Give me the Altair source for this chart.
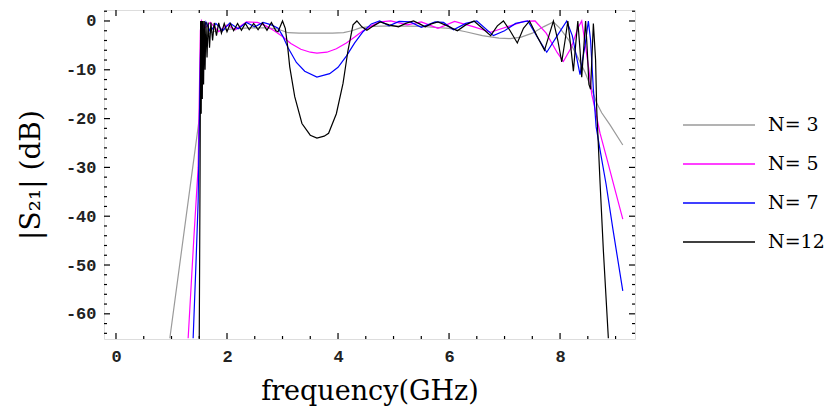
import altair as alt
import pandas as pd

# ---------------- data ----------------
series_names = ["N= 3", "N= 5", "N= 7", "N=12"]
series_colors = ["#9a9a9a", "#ff00ff", "#0000ff", "#000000"]

# N = 3 (gray)
f_n3 = [0.97, 1.50, 1.53, 1.57, 1.62, 1.70, 1.85, 2.10, 2.40, 2.70, 2.90, 3.00, 3.10, 3.30,
        3.60, 3.90, 4.10, 4.25, 4.40, 4.60, 5.00, 5.50, 6.00, 6.30, 6.60, 6.90, 7.10, 7.30,
        7.50, 7.70, 7.88, 8.00, 8.15, 8.30, 8.45, 8.57, 8.66, 8.75, 8.90, 9.13]
s_n3 = [-65.0, -20.0, -10.0, -5.0, -3.2, -2.4, -1.9, -1.6, -1.4, -1.4, -1.6, -2.0, -2.4, -2.5,
        -2.5, -2.5, -2.4, -2.0, -1.4, -1.1, -1.0, -1.1, -1.5, -2.2, -3.0, -3.5, -3.6, -3.3,
        -2.5, -1.2, -0.2, -1.5, -3.8, -7.0, -10.5, -14.0, -16.8, -18.8, -21.3, -25.4]

# N = 5 (magenta)
f_n5 = [1.30, 1.40, 1.48, 1.50, 1.52, 1.54, 1.60, 1.70, 1.85, 2.00, 2.15, 2.35, 2.55, 2.70,
        2.85, 3.00, 3.15, 3.33, 3.50, 3.62, 3.80, 3.97, 4.15, 4.30, 4.45, 4.60, 4.76, 4.95,
        5.25, 5.50, 5.80, 6.10, 6.45, 6.75, 7.10, 7.35, 7.55, 7.75, 7.95, 8.06, 8.20, 8.32,
        8.39, 8.45, 8.52, 8.57, 8.63, 8.72, 8.85, 9.00, 9.13]
s_n5 = [-65.0, -45.0, -30.0, -16.0, -2.0, 0.0, -1.5, -0.3, -2.2, -0.8, -1.8, -0.2, -0.3, -1.0,
        -2.0, -3.2, -4.6, -5.8, -6.4, -6.6, -6.4, -5.7, -4.5, -3.3, -2.0, -1.0, -0.2, 0.0,
        -0.8, -0.2, -1.5, -0.1, -1.2, -2.3, -1.0, -0.1, 0.0, -2.5, -6.5, -8.3, -5.5, -1.5,
        0.0, -4.5, -10.0, -15.0, -18.0, -23.0, -28.5, -35.0, -40.6]

# N = 7 (blue)
f_n7 = [1.39, 1.44, 1.48, 1.51, 1.52, 1.535, 1.57, 1.62, 1.70, 1.80, 1.92, 2.05, 2.20, 2.35,
        2.50, 2.65, 2.80, 2.92, 3.00, 3.10, 3.25, 3.40, 3.62, 3.85, 4.00, 4.15, 4.30, 4.45,
        4.60, 4.75, 4.92, 5.10, 5.30, 5.50, 5.75, 5.90, 6.08, 6.30, 6.50, 6.80, 7.00, 7.20,
        7.42, 7.60, 7.76, 7.95, 8.12, 8.22, 8.36, 8.45, 8.51, 8.55, 8.60, 8.65, 8.72, 8.83,
        8.95, 9.13]
s_n7 = [-65.0, -50.0, -37.0, -15.0, -8.0, 0.0, -2.5, -0.2, -2.2, -0.5, -2.0, -0.4, -1.6, -0.3,
        -1.2, -0.3, -0.8, -1.5, -3.0, -5.5, -8.5, -10.3, -11.5, -10.8, -9.5, -7.2, -4.5, -2.2,
        -0.6, 0.0, -1.0, -0.1, -0.2, -1.3, -0.2, -0.3, -1.8, -0.5, 0.0, -3.0, -2.0, -0.5,
        0.0, -3.5, -6.4, -3.0, 0.0, -3.0, -11.0, -5.0, 0.0, -4.0, -14.0, -21.7, -26.4, -33.5,
        -42.5, -55.3]

# N = 12 (black)
f_n12 = [1.50, 1.515, 1.525, 1.535, 1.545, 1.555, 1.565, 1.578, 1.59, 1.605, 1.62, 1.64,
         1.66, 1.685, 1.71, 1.74, 1.77, 1.81, 1.85, 1.90, 1.95, 2.00, 2.06, 2.12, 2.19,
         2.26, 2.33, 2.40, 2.48, 2.56, 2.64, 2.72, 2.80, 2.88, 2.92, 3.00, 3.05, 3.09,
         3.13, 3.22, 3.35, 3.50, 3.62, 3.75, 3.83, 3.97, 4.09, 4.18, 4.27, 4.34, 4.43,
         4.52, 4.64, 4.76, 4.92, 5.09, 5.22, 5.36, 5.47, 5.57, 5.68, 5.80, 5.97, 6.15,
         6.30, 6.45, 6.60, 6.75, 6.87, 6.98, 7.10, 7.23, 7.34, 7.45, 7.58, 7.72, 7.80,
         7.88, 7.96, 8.03, 8.09, 8.14, 8.19, 8.24, 8.28, 8.32, 8.36, 8.39, 8.43, 8.46,
         8.49, 8.52, 8.55, 8.60, 8.64, 8.66, 8.72, 8.78, 8.87]
s_n12 = [-65.0, -30.0, 0.0, -19.0, 0.0, -16.0, 0.0, -13.0, 0.0, -10.0, -0.2, -7.5,
         -0.3, -5.5, -0.3, -4.0, -0.4, -3.0, -0.4, -2.5, -0.5, -2.2, -0.5, -2.0, -0.5,
         -1.9, -0.5, -1.8, -0.5, -1.8, -0.4, -1.9, -0.3, -2.0, -2.2, 0.0, -1.5, -5.0,
         -9.4, -15.5, -21.0, -23.4, -24.0, -23.6, -23.0, -19.0, -12.8, -6.0, -0.8, 0.0, -1.2,
         -1.9, -1.0, -0.2, -0.8, -1.2, -0.5, 0.0, -0.6, -1.2, -0.6, -0.2, -1.0, -2.0,
         -0.8, 0.0, -1.5, -3.0, -1.0, 0.0, -2.0, -4.5, -1.5, 0.0, -3.0, -6.0, -3.0,
         0.0, -4.0, -8.4, -4.0, 0.0, -5.0, -10.3, -5.0, 0.0, -6.0, -11.5, -5.0, 0.0,
         -6.0, -13.0, -14.0, -0.5, -8.0, -18.0, -33.0, -47.0, -65.0]

# frame ticks
x_major = [0, 2, 4, 6, 8]
x_minor = [0.5, 1, 1.5, 2.5, 3, 3.5, 4.5, 5, 5.5, 6.5, 7, 7.5, 8.5, 9]
y_major = [0, -10, -20, -30, -40, -50, -60]
y_minor = [2, -2, -4, -6, -8, -12, -14, -16, -18, -22, -24, -26, -28, -32, -34, -36, -38,
           -42, -44, -46, -48, -52, -54, -56, -58, -62, -64]

# ---------------- chart ----------------
W, H = 531, 329
x_dom = [-0.216, 9.35]
y_dom = [-65.16, 2.25]
xs = alt.Scale(domain=x_dom, nice=False, zero=False)
ys = alt.Scale(domain=y_dom, nice=False, zero=False)

x_axis = alt.Axis(values=x_major, ticks=False, domain=False, grid=False,
                  labelFont="Liberation Mono", labelFontWeight="bold", labelFontSize=17,
                  labelColor="#222", labelPadding=9,
                  title="frequency(GHz)", titleFont="DejaVu Serif", titleFontSize=27,
                  titleFontWeight="normal", titleColor="#000", titlePadding=14)
y_axis = alt.Axis(values=y_major, ticks=False, domain=False, grid=False,
                  labelFont="Liberation Mono", labelFontWeight="bold", labelFontSize=17,
                  labelColor="#222", labelPadding=8,
                  labelExpr="datum.value < 0 ? '-' + (-datum.value) : datum.label",
                  title="|S₂₁| (dB)", titleFont="DejaVu Serif", titleFontSize=28,
                  titleFontWeight="normal", titleColor="#000", titlePadding=20)

series = [(series_names[0], f_n3, s_n3), (series_names[1], f_n5, s_n5),
          (series_names[2], f_n7, s_n7), (series_names[3], f_n12, s_n12)]

color_scale = alt.Scale(domain=series_names, range=series_colors)

layers = []
for name, f, s in series:
    df = pd.DataFrame({"f": f, "s": s, "series": name, "i": range(len(f))})
    layers.append(
        alt.Chart(df).mark_line(strokeWidth=1.2, clip=True).encode(
            x=alt.X("f:Q", scale=xs, axis=x_axis),
            y=alt.Y("s:Q", scale=ys, axis=y_axis),
            order="i:Q",
            color=alt.Color("series:N", scale=color_scale, legend=None),
        )
    )

# inward frame ticks
def xticks(vals, length):
    d = pd.DataFrame({"v": vals})
    base = alt.Chart(d).mark_rule(color="#000", strokeWidth=1.2)
    xe = alt.X("v:Q", scale=xs, axis=x_axis)
    return [base.encode(x=xe, y=alt.value(H), y2=alt.value(H - length)),
            base.encode(x=xe, y=alt.value(0), y2=alt.value(length))]

def yticks(vals, length):
    d = pd.DataFrame({"v": vals})
    base = alt.Chart(d).mark_rule(color="#000", strokeWidth=1.2)
    ye = alt.Y("v:Q", scale=ys, axis=y_axis)
    return [base.encode(y=ye, x=alt.value(0), x2=alt.value(length)),
            base.encode(y=ye, x=alt.value(W), x2=alt.value(W - length))]

tick_layers = xticks(x_major, 6) + xticks(x_minor, 3) + yticks(y_major, 6) + yticks(y_minor, 3)

# legend drawn beside the frame
leg_y = [115, 154, 193, 232]
leg_layers = []
for k, name in enumerate(series_names):
    d = pd.DataFrame({"series": [name]})
    leg_layers.append(
        alt.Chart(d).mark_rule(strokeWidth=1.4).encode(
            x=alt.value(579), x2=alt.value(651), y=alt.value(leg_y[k]),
            color=alt.Color("series:N", scale=color_scale, legend=None))
    )
    leg_layers.append(
        alt.Chart(d).mark_text(align="left", baseline="middle", font="DejaVu Serif",
                               fontSize=19, color="#000").encode(
            x=alt.value(664), y=alt.value(leg_y[k]), text="series:N")
    )

chart = alt.layer(*layers, *tick_layers, *leg_layers).properties(
    width=W, height=H,
    autosize=alt.AutoSizeParams(type="none"),
    padding={"left": 96, "top": 2, "right": 189, "bottom": 67},
).configure_view(stroke="#000", strokeWidth=1.6).configure(background="white")

chart.save("out.html", embed_options={"renderer": "svg", "actions": False})
